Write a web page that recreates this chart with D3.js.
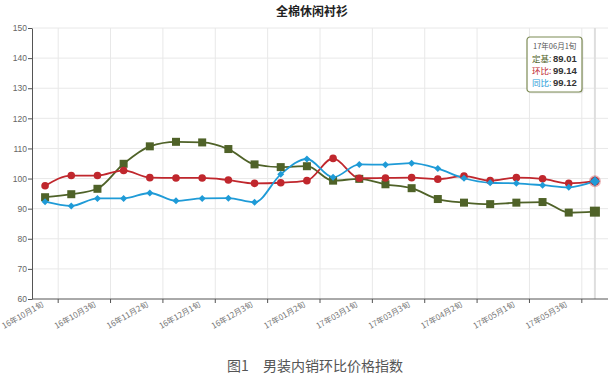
<!DOCTYPE html>
<html>
<head>
<meta charset="utf-8">
<script src="https://cdn.jsdelivr.net/npm/d3@7"></script>
<style>
  body { margin: 0; background: #fff; }
  svg { font-family: "Noto Sans CJK SC", "Noto Sans", sans-serif; }
</style>
</head>
<body>
<svg width="615" height="384"></svg>
<script>
let svg = d3.select("svg");

// data
let categories = [
  "16年10月1旬", "16年10月2旬", "16年10月3旬", "16年11月1旬", "16年11月2旬", "16年11月3旬",
  "16年12月1旬", "16年12月2旬", "16年12月3旬", "17年01月1旬", "17年01月2旬", "17年02月3旬",
  "17年03月1旬", "17年03月2旬", "17年03月3旬", "17年04月1旬", "17年04月2旬", "17年04月3旬",
  "17年05月1旬", "17年05月2旬", "17年05月3旬", "17年06月1旬"
];
let dingji = [93.8, 94.8, 96.6, 104.9, 110.7, 112.2, 112.0, 109.8, 104.7, 103.8, 104.1, 99.3,
  99.9, 98.1, 96.8, 93.2, 92.0, 91.5, 92.0, 92.2, 88.7, 89.01];
let huanbi = [97.6, 101.0, 101.0, 102.7, 100.3, 100.2, 100.2, 99.5, 98.4, 98.6, 99.3, 106.7,
  100.1, 100.2, 100.3, 99.8, 100.8, 99.3, 100.3, 99.9, 98.4, 99.14];
let tongbi = [92.3, 90.9, 93.4, 93.4, 95.2, 92.6, 93.4, 93.5, 92.1, 101.4, 106.5, 100.4,
  104.7, 104.6, 105.1, 103.3, 100.1, 98.6, 98.4, 97.8, 97.1, 99.12];
let yTicks = [60, 70, 80, 90, 100, 110, 120, 130, 140, 150];

let series = [
  { name: "定基", values: dingji, color: "#4f6228", shape: "square" },
  { name: "环比", values: huanbi, color: "#c0272d", shape: "circle" },
  { name: "同比", values: tongbi, color: "#1f9bd7", shape: "diamond" }
];

let plotL = 32, plotR = 608, plotT = 28, plotB = 299;

let x = d3.scaleBand().domain(categories).range([plotL, plotR]);
let bw = x.bandwidth();
let cx = d => x(d) + bw / 2;
let y = d3.scaleLinear().domain([60, 150]).range([plotB, plotT]);

// title
svg.append("text")
  .attr("x", 312).attr("y", 16)
  .attr("text-anchor", "middle")
  .attr("font-size", 12).attr("font-weight", "bold").attr("fill", "#222")
  .text("全棉休闲衬衫");

// grid
svg.append("g").selectAll("line.h")
  .data(yTicks.slice(1))
  .enter().append("line")
  .attr("x1", plotL).attr("x2", plotR)
  .attr("y1", d => y(d)).attr("y2", d => y(d))
  .attr("stroke", "#e8e8e8");

let oddCats = categories.filter((d, i) => i % 2 === 1);
svg.append("g").selectAll("line.v")
  .data(oddCats)
  .enter().append("line")
  .attr("x1", d => x(d)).attr("x2", d => x(d))
  .attr("y1", plotT).attr("y2", plotB)
  .attr("stroke", "#e8e8e8");

// hover crosshair on last point
let last = categories[categories.length - 1];
svg.append("line")
  .attr("x1", cx(last)).attr("x2", cx(last))
  .attr("y1", plotT).attr("y2", plotB)
  .attr("stroke", "#dedede").attr("stroke-width", 2);

// y axis
let yAxis = svg.append("g")
  .attr("transform", "translate(" + plotL + ",0)")
  .call(d3.axisLeft(y).tickValues(yTicks).tickSize(4).tickSizeOuter(0));
yAxis.select(".domain").attr("stroke", "#555");
yAxis.selectAll(".tick line").attr("stroke", "#555");
yAxis.selectAll("text").attr("fill", "#666").attr("font-size", 8.5).attr("x", -5);

// x axis
svg.append("line")
  .attr("x1", plotL).attr("x2", plotR)
  .attr("y1", plotB).attr("y2", plotB)
  .attr("stroke", "#555");
svg.append("g").selectAll("line")
  .data(oddCats)
  .enter().append("line")
  .attr("x1", d => x(d)).attr("x2", d => x(d))
  .attr("y1", plotB).attr("y2", plotB + 4)
  .attr("stroke", "#555");
svg.append("g").selectAll("text")
  .data(categories.filter((d, i) => i % 2 === 0 && i < 21))
  .enter().append("text")
  .attr("transform", d => "translate(" + (cx(d) - 1) + "," + (plotB + 7) + ") rotate(-30)")
  .attr("text-anchor", "end")
  .attr("font-size", 8).attr("fill", "#777")
  .text(d => d);

// lines
let line = d3.line()
  .x((d, i) => cx(categories[i]))
  .y(d => y(d))
  .curve(d3.curveMonotoneX);

series.forEach(s => {
  svg.append("path")
    .datum(s.values)
    .attr("fill", "none")
    .attr("stroke", s.color)
    .attr("stroke-width", 1.8)
    .attr("d", line);
});

// markers
series.forEach(s => {
  let g = svg.append("g");
  s.values.forEach((v, i) => {
    let px = cx(categories[i]), py = y(v);
    let big = i === s.values.length - 1;
    if (s.shape === "square") {
      let sz = big ? 10 : 8;
      g.append("rect")
        .attr("x", px - sz / 2).attr("y", py - sz / 2)
        .attr("width", sz).attr("height", sz)
        .attr("fill", s.color);
    } else if (s.shape === "circle") {
      if (big) {
        g.append("circle").attr("cx", px).attr("cy", py).attr("r", 6)
          .attr("fill", s.color).attr("opacity", 0.35);
      }
      g.append("circle")
        .attr("cx", px).attr("cy", py).attr("r", big ? 4.5 : 3.8)
        .attr("fill", s.color);
    } else {
      let r = big ? 5 : 3.5;
      g.append("path")
        .attr("d", "M" + px + "," + (py - r) + "L" + (px + r) + "," + py +
          "L" + px + "," + (py + r) + "L" + (px - r) + "," + py + "Z")
        .attr("fill", s.color);
    }
  });
});

// tooltip
let tip = svg.append("g").attr("transform", "translate(527,37)");
tip.append("rect")
  .attr("x", 1.5).attr("y", 1.5).attr("width", 55).attr("height", 55).attr("rx", 3)
  .attr("fill", "#000").attr("opacity", 0.08);
tip.append("rect")
  .attr("width", 55).attr("height", 55).attr("rx", 3)
  .attr("fill", "#fff").attr("stroke", "#7d8b55").attr("stroke-width", 1.2);
tip.append("text")
  .attr("x", 6).attr("y", 12)
  .attr("font-size", 7.5).attr("fill", "#555")
  .text(last);
series.forEach((s, k) => {
  tip.append("text")
    .attr("x", 5).attr("y", 24.5 + k * 12.3)
    .attr("font-size", 8.5).attr("fill", s.color)
    .text(s.name + ":");
  tip.append("text")
    .attr("x", 26).attr("y", 24.5 + k * 12.3)
    .attr("font-family", "Liberation Sans, Arial, sans-serif")
    .attr("font-size", 9.5).attr("fill", "#333").attr("font-weight", "bold")
    .text(s.values[s.values.length - 1].toFixed(2));
});

// caption
svg.append("text")
  .attr("x", 315).attr("y", 371)
  .attr("text-anchor", "middle")
  .attr("font-size", 14).attr("fill", "#555")
  .attr("xml:space", "preserve")
  .text("图1　男装内销环比价格指数");
</script>
</body>
</html>
